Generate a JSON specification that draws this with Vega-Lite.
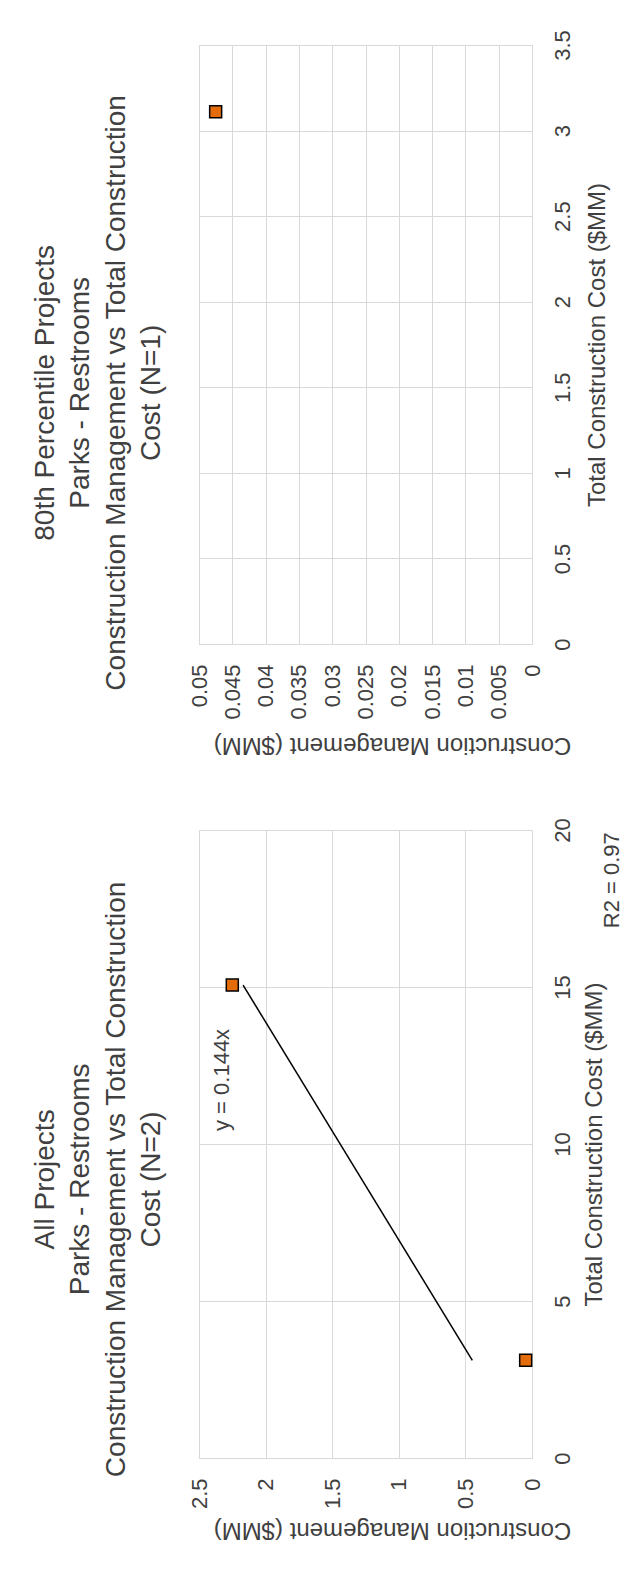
{
  "$schema": "https://vega.github.io/schema/vega-lite/v6.json",
  "background": "white",
  "padding": {"left": 30, "top": 29, "right": 0, "bottom": 40},
  "bounds": "flush",
  "spacing": 186,
  "config": {
    "font": "Liberation Sans",
    "view": {"stroke": "#d9d9d9", "strokeWidth": 1},
    "axis": {
      "gridColor": "#d9d9d9", "gridWidth": 1, "domainColor": "#d9d9d9", "ticks": false,
      "labelColor": "#404040", "titleColor": "#404040", "labelFontSize": 22, "titleFontSize": 24,
      "titleFontWeight": "normal", "labelFont": "Liberation Sans", "titleFont": "Liberation Sans",
      "labelOverlap": false, "labelFlush": false, "labelBound": false
    },
    "title": {"font": "Liberation Sans", "fontSize": 28, "fontWeight": "normal", "color": "#404040", "lineHeight": 35.5, "orient": "left", "anchor": "middle", "frame": "bounds", "offset": 22}
  },
  "vconcat": [
    {
      "width": 333, "height": 599,
      "title": {"text": ["80th Percentile Projects", "Parks - Restrooms", "Construction Management vs Total Construction", "Cost (N=1)"]},
      "data": {"values": [{"tcc": 3.11, "cm": 0.0475}]},
      "mark": {"type": "point", "shape": "square", "filled": true, "fill": "#E46C0A", "stroke": "#000000", "strokeWidth": 1.5, "size": 144, "opacity": 1},
      "encoding": {
        "x": {"field": "cm", "type": "quantitative",
          "scale": {"domain": [0, 0.05], "reverse": true, "nice": false},
          "axis": {"orient": "bottom", "values": [0, 0.005, 0.01, 0.015, 0.02, 0.025, 0.03, 0.035, 0.04, 0.045, 0.05], "format": "~g",
            "labelAngle": -90, "labelAlign": "right", "labelBaseline": "middle", "labelPadding": 20,
            "title": "Construction Management  ($MM)", "titleAngle": 180, "titleAlign": "center", "titleBaseline": "middle", "titleX": 193, "titleY": 100}},
        "y": {"field": "tcc", "type": "quantitative",
          "scale": {"domain": [0, 3.5], "nice": false},
          "axis": {"orient": "right", "values": [0, 0.5, 1, 1.5, 2, 2.5, 3, 3.5], "format": "~g",
            "labelAngle": -90, "labelAlign": "center", "labelBaseline": "top", "labelPadding": 20,
            "title": "Total Construction Cost ($MM)", "titleAngle": -90, "titleAlign": "center", "titleBaseline": "middle", "titleX": 65, "titleY": 299.5}}
      }
    },
    {
      "width": 333, "height": 628,
      "title": {"text": ["All Projects", "Parks - Restrooms", "Construction Management vs Total Construction", "Cost (N=2)"]},
      "encoding": {
        "x": {"field": "cm", "type": "quantitative",
          "scale": {"domain": [0, 2.5], "reverse": true, "nice": false},
          "axis": {"orient": "bottom", "values": [0, 0.5, 1, 1.5, 2, 2.5], "format": "~g",
            "labelAngle": -90, "labelAlign": "right", "labelBaseline": "middle", "labelPadding": 20,
            "title": "Construction Management  ($MM)", "titleAngle": 180, "titleAlign": "center", "titleBaseline": "middle", "titleX": 193, "titleY": 71}},
        "y": {"field": "tcc", "type": "quantitative",
          "scale": {"domain": [0, 20], "nice": false},
          "axis": {"orient": "right", "values": [0, 5, 10, 15, 20], "format": "~g",
            "labelAngle": -90, "labelAlign": "center", "labelBaseline": "top", "labelPadding": 20,
            "title": "Total Construction Cost ($MM)", "titleAngle": -90, "titleAlign": "center", "titleBaseline": "middle", "titleX": 62, "titleY": 314}}
      },
      "layer": [
        {
          "data": {"values": [{"tcc": 3.11, "cm": 0.448}, {"tcc": 15.06, "cm": 2.169}]},
          "mark": {"type": "line", "color": "#000000", "strokeWidth": 1.5}
        },
        {
          "data": {"values": [{"tcc": 15.06, "cm": 2.25}, {"tcc": 3.11, "cm": 0.0475}]},
          "mark": {"type": "point", "shape": "square", "filled": true, "fill": "#E46C0A", "stroke": "#000000", "strokeWidth": 1.5, "size": 144, "opacity": 1}
        },
        {
          "data": {"values": [{"tcc": 12.04, "cm": 2.33, "label": "y = 0.144x"}, {"tcc": 18.4, "cm": -0.6, "label": "R2 = 0.97"}]},
          "mark": {"type": "text", "angle": 270, "align": "center", "baseline": "middle", "fontSize": 22, "font": "Liberation Sans", "color": "#404040"},
          "encoding": {"text": {"field": "label", "type": "nominal"}}
        }
      ]
    }
  ]
}
